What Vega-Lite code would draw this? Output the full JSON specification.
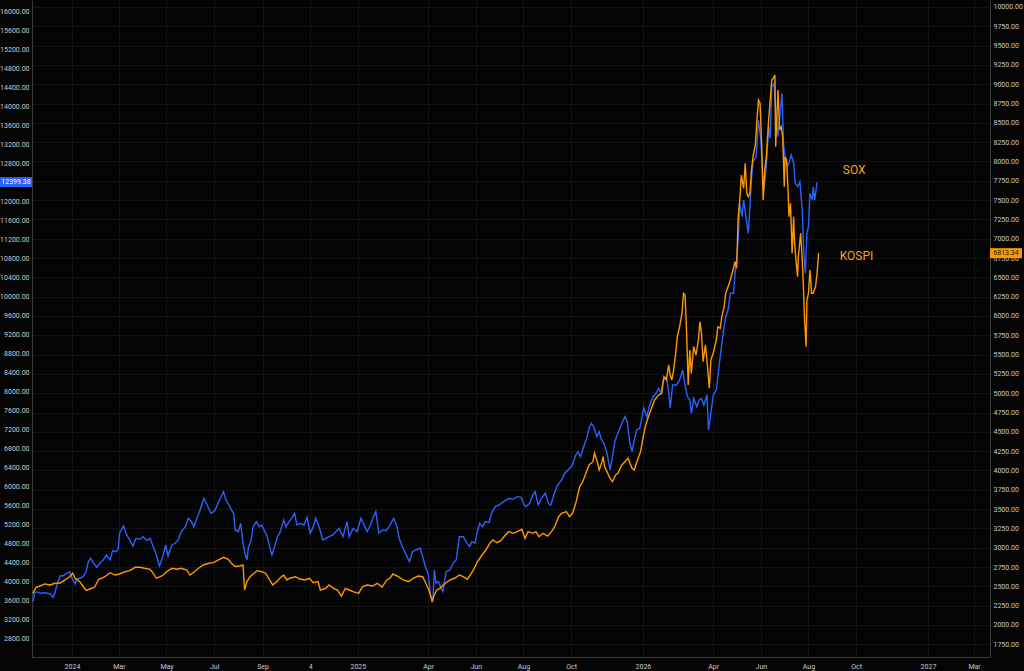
{
  "$schema": "https://vega.github.io/schema/vega-lite/v6.json",
  "width": 958,
  "height": 657,
  "autosize": {"type": "none"},
  "padding": {"left": 32, "right": 34, "top": 0, "bottom": 14},
  "background": "#040404",
  "config": {
    "view": {"stroke": null},
    "axis": {"labelFont": "Roboto", "labelFontSize": 7, "labelColor": "#c8cad0", "domainColor": "#3a3a3a", "ticks": false, "title": null}
  },
  "datasets": {
    "sox": [
      {"date":"2023-11-12","value":3566},{"date":"2023-11-14","value":3743},{"date":"2023-11-17","value":3776},{"date":"2023-11-21","value":3743},{"date":"2023-11-27","value":3755},{"date":"2023-12-04","value":3728},{"date":"2023-12-08","value":3658},{"date":"2023-12-10","value":3743},{"date":"2023-12-13","value":3938},{"date":"2023-12-17","value":4107},{"date":"2023-12-21","value":4117},{"date":"2023-12-25","value":4159},{"date":"2023-12-29","value":4197},
      {"date":"2024-01-01","value":4058},{"date":"2024-01-05","value":3938},{"date":"2024-01-07","value":4044},{"date":"2024-01-11","value":4058},{"date":"2024-01-15","value":4086},{"date":"2024-01-19","value":4197},{"date":"2024-01-22","value":4408},{"date":"2024-01-25","value":4479},{"date":"2024-01-28","value":4387},{"date":"2024-02-02","value":4290},{"date":"2024-02-06","value":4387},{"date":"2024-02-10","value":4444},{"date":"2024-02-14","value":4549},{"date":"2024-02-19","value":4444},{"date":"2024-02-22","value":4639},{"date":"2024-02-26","value":4618},{"date":"2024-02-29","value":4654},
      {"date":"2024-03-02","value":5006},{"date":"2024-03-07","value":5159},{"date":"2024-03-11","value":4970},{"date":"2024-03-15","value":4865},{"date":"2024-03-19","value":4738},{"date":"2024-03-23","value":4900},{"date":"2024-03-28","value":4879},{"date":"2024-04-01","value":4934},{"date":"2024-04-06","value":4850},{"date":"2024-04-10","value":4900},{"date":"2024-04-14","value":4724},{"date":"2024-04-18","value":4549},{"date":"2024-04-22","value":4317},{"date":"2024-04-26","value":4500},{"date":"2024-04-30","value":4759},
      {"date":"2024-05-03","value":4528},{"date":"2024-05-08","value":4759},{"date":"2024-05-12","value":4795},{"date":"2024-05-16","value":4865},{"date":"2024-05-20","value":5039},{"date":"2024-05-25","value":5145},{"date":"2024-05-29","value":5321},{"date":"2024-06-02","value":5250},{"date":"2024-06-05","value":5145},{"date":"2024-06-09","value":5321},{"date":"2024-06-13","value":5496},{"date":"2024-06-18","value":5742},{"date":"2024-06-22","value":5601},{"date":"2024-06-27","value":5426},
      {"date":"2024-07-02","value":5481},{"date":"2024-07-06","value":5637},{"date":"2024-07-09","value":5742},{"date":"2024-07-13","value":5881},{"date":"2024-07-16","value":5707},{"date":"2024-07-20","value":5601},{"date":"2024-07-23","value":5496},{"date":"2024-07-26","value":5426},{"date":"2024-07-28","value":5075},{"date":"2024-08-01","value":5039},{"date":"2024-08-04","value":5216},{"date":"2024-08-07","value":4795},{"date":"2024-08-10","value":4549},{"date":"2024-08-12","value":4444},{"date":"2024-08-14","value":4724},{"date":"2024-08-17","value":4829},{"date":"2024-08-20","value":5145},{"date":"2024-08-24","value":5250},{"date":"2024-08-28","value":5145},{"date":"2024-08-31","value":5180},
      {"date":"2024-09-04","value":5039},{"date":"2024-09-07","value":4934},{"date":"2024-09-10","value":4724},{"date":"2024-09-13","value":4549},{"date":"2024-09-17","value":4759},{"date":"2024-09-20","value":4934},{"date":"2024-09-23","value":5006},{"date":"2024-09-28","value":5286},{"date":"2024-10-01","value":5145},{"date":"2024-10-05","value":5250},{"date":"2024-10-08","value":5321},{"date":"2024-10-12","value":5426},{"date":"2024-10-15","value":5180},{"date":"2024-10-19","value":5216},{"date":"2024-10-24","value":5180},{"date":"2024-10-28","value":5342},
      {"date":"2024-11-01","value":5006},{"date":"2024-11-05","value":5145},{"date":"2024-11-08","value":5321},{"date":"2024-11-13","value":5111},{"date":"2024-11-17","value":4865},{"date":"2024-11-21","value":4900},{"date":"2024-11-25","value":4934},{"date":"2024-11-30","value":4970},{"date":"2024-12-04","value":5039},{"date":"2024-12-08","value":5111},{"date":"2024-12-13","value":4934},{"date":"2024-12-18","value":5250},{"date":"2024-12-21","value":4934},{"date":"2024-12-26","value":5111},{"date":"2024-12-31","value":5039},
      {"date":"2025-01-05","value":5321},{"date":"2025-01-09","value":5180},{"date":"2025-01-13","value":5039},{"date":"2025-01-17","value":5180},{"date":"2025-01-21","value":5355},{"date":"2025-01-24","value":5460},{"date":"2025-01-28","value":5006},{"date":"2025-02-02","value":5075},{"date":"2025-02-06","value":5060},{"date":"2025-02-10","value":5145},{"date":"2025-02-16","value":5321},{"date":"2025-02-20","value":5145},{"date":"2025-02-23","value":4900},{"date":"2025-02-27","value":4724},
      {"date":"2025-03-04","value":4549},{"date":"2025-03-08","value":4408},{"date":"2025-03-12","value":4618},{"date":"2025-03-16","value":4654},{"date":"2025-03-22","value":4690},{"date":"2025-03-25","value":4513},{"date":"2025-03-29","value":4269},{"date":"2025-04-01","value":4164},{"date":"2025-04-04","value":3707},{"date":"2025-04-07","value":3559},{"date":"2025-04-09","value":4233},{"date":"2025-04-11","value":3953},{"date":"2025-04-14","value":3987},{"date":"2025-04-20","value":3776},{"date":"2025-04-24","value":4197},{"date":"2025-04-29","value":4233},
      {"date":"2025-05-03","value":4374},{"date":"2025-05-07","value":4444},{"date":"2025-05-11","value":4934},{"date":"2025-05-16","value":4934},{"date":"2025-05-21","value":4795},{"date":"2025-05-24","value":4724},{"date":"2025-05-27","value":4829},{"date":"2025-05-31","value":4795},{"date":"2025-06-03","value":5039},{"date":"2025-06-06","value":5216},{"date":"2025-06-10","value":5145},{"date":"2025-06-13","value":5250},{"date":"2025-06-18","value":5229},{"date":"2025-06-21","value":5426},{"date":"2025-06-26","value":5566},
      {"date":"2025-07-01","value":5601},{"date":"2025-07-05","value":5650},{"date":"2025-07-10","value":5707},{"date":"2025-07-15","value":5742},{"date":"2025-07-19","value":5721},{"date":"2025-07-24","value":5776},{"date":"2025-07-29","value":5763},{"date":"2025-08-01","value":5637},{"date":"2025-08-04","value":5566},{"date":"2025-08-09","value":5637},{"date":"2025-08-13","value":5812},{"date":"2025-08-16","value":5881},{"date":"2025-08-20","value":5601},{"date":"2025-08-24","value":5742},{"date":"2025-08-29","value":5848},
      {"date":"2025-09-02","value":5637},{"date":"2025-09-05","value":5601},{"date":"2025-09-09","value":5812},{"date":"2025-09-13","value":6001},{"date":"2025-09-19","value":6128},{"date":"2025-09-23","value":6269},{"date":"2025-09-27","value":6338},{"date":"2025-10-02","value":6422},{"date":"2025-10-05","value":6549},{"date":"2025-10-07","value":6654},{"date":"2025-10-10","value":6723},{"date":"2025-10-13","value":6618},{"date":"2025-10-18","value":6864},{"date":"2025-10-21","value":7005},{"date":"2025-10-24","value":7216},{"date":"2025-10-27","value":7321},{"date":"2025-10-30","value":7250},
      {"date":"2025-11-03","value":7039},{"date":"2025-11-06","value":7144},{"date":"2025-11-09","value":6970},{"date":"2025-11-12","value":6900},{"date":"2025-11-16","value":6690},{"date":"2025-11-20","value":6338},{"date":"2025-11-23","value":6618},{"date":"2025-11-26","value":6934},{"date":"2025-11-30","value":7111},{"date":"2025-12-05","value":7321},{"date":"2025-12-09","value":7460},{"date":"2025-12-12","value":7355},{"date":"2025-12-15","value":6934},{"date":"2025-12-18","value":6723},{"date":"2025-12-21","value":6970},{"date":"2025-12-24","value":7180},{"date":"2025-12-28","value":7216},
      {"date":"2026-01-02","value":7643},{"date":"2026-01-06","value":7460},{"date":"2026-01-09","value":7671},{"date":"2026-01-14","value":7881},{"date":"2026-01-18","value":7953},{"date":"2026-01-21","value":8058},{"date":"2026-01-24","value":7953},{"date":"2026-01-27","value":8233},{"date":"2026-01-31","value":8302},{"date":"2026-02-03","value":7986},{"date":"2026-02-05","value":7637},{"date":"2026-02-08","value":8127},{"date":"2026-02-13","value":8127},{"date":"2026-02-17","value":8233},{"date":"2026-02-21","value":8443},{"date":"2026-02-24","value":8127},{"date":"2026-02-27","value":7881},
      {"date":"2026-03-02","value":7812},{"date":"2026-03-04","value":7532},{"date":"2026-03-07","value":7847},{"date":"2026-03-11","value":7671},{"date":"2026-03-14","value":7812},{"date":"2026-03-17","value":7847},{"date":"2026-03-20","value":7706},{"date":"2026-03-24","value":7917},{"date":"2026-03-26","value":7180},{"date":"2026-03-29","value":7532},
      {"date":"2026-04-01","value":7917},{"date":"2026-04-05","value":8022},{"date":"2026-04-08","value":8443},{"date":"2026-04-11","value":8864},{"date":"2026-04-14","value":9249},{"date":"2026-04-17","value":9565},{"date":"2026-04-20","value":9706},{"date":"2026-04-23","value":10058},{"date":"2026-04-27","value":10058},{"date":"2026-04-29","value":10479},
      {"date":"2026-05-01","value":10759},{"date":"2026-05-03","value":11180},{"date":"2026-05-05","value":11952},{"date":"2026-05-08","value":11670},{"date":"2026-05-10","value":12022},{"date":"2026-05-14","value":11531},{"date":"2026-05-16","value":11321},{"date":"2026-05-18","value":11881},{"date":"2026-05-20","value":12443},{"date":"2026-05-22","value":12828},{"date":"2026-05-26","value":12933},{"date":"2026-05-29","value":13706},
      {"date":"2026-06-01","value":13285},{"date":"2026-06-03","value":12653},{"date":"2026-06-05","value":12232},{"date":"2026-06-08","value":12723},{"date":"2026-06-11","value":13565},{"date":"2026-06-13","value":13320},{"date":"2026-06-15","value":14407},{"date":"2026-06-18","value":14478},{"date":"2026-06-20","value":13916},{"date":"2026-06-23","value":13354},{"date":"2026-06-25","value":13706},{"date":"2026-06-28","value":14268},{"date":"2026-06-30","value":13215},
      {"date":"2026-07-02","value":12933},{"date":"2026-07-05","value":12723},{"date":"2026-07-07","value":12794},{"date":"2026-07-10","value":12969},{"date":"2026-07-13","value":12794},{"date":"2026-07-15","value":12373},{"date":"2026-07-18","value":12302},{"date":"2026-07-21","value":12407},{"date":"2026-07-24","value":11811},{"date":"2026-07-26","value":10900},{"date":"2026-07-28","value":10479},{"date":"2026-07-30","value":11321},
      {"date":"2026-08-01","value":11460},{"date":"2026-08-03","value":12163},{"date":"2026-08-06","value":12022},{"date":"2026-08-07","value":12302},{"date":"2026-08-09","value":12022},{"date":"2026-08-12","value":12399.38}
    ],
    "kospi": [
      {"date":"2023-11-12","value":2410},{"date":"2023-11-16","value":2488},{"date":"2023-11-21","value":2505},{"date":"2023-11-27","value":2531},{"date":"2023-12-04","value":2518},{"date":"2023-12-10","value":2540},{"date":"2023-12-17","value":2544},{"date":"2023-12-23","value":2583},{"date":"2023-12-29","value":2625},
      {"date":"2024-01-02","value":2669},{"date":"2024-01-05","value":2605},{"date":"2024-01-11","value":2561},{"date":"2024-01-15","value":2505},{"date":"2024-01-19","value":2447},{"date":"2024-01-24","value":2466},{"date":"2024-01-30","value":2488},{"date":"2024-02-04","value":2592},{"date":"2024-02-08","value":2605},{"date":"2024-02-12","value":2625},{"date":"2024-02-19","value":2677},{"date":"2024-02-25","value":2647},
      {"date":"2024-03-02","value":2660},{"date":"2024-03-09","value":2690},{"date":"2024-03-15","value":2703},{"date":"2024-03-22","value":2747},{"date":"2024-03-28","value":2747},{"date":"2024-04-03","value":2734},{"date":"2024-04-10","value":2721},{"date":"2024-04-14","value":2669},{"date":"2024-04-18","value":2605},{"date":"2024-04-23","value":2625},{"date":"2024-04-27","value":2647},
      {"date":"2024-05-01","value":2690},{"date":"2024-05-08","value":2734},{"date":"2024-05-14","value":2721},{"date":"2024-05-20","value":2734},{"date":"2024-05-27","value":2712},{"date":"2024-05-31","value":2647},{"date":"2024-06-04","value":2677},{"date":"2024-06-11","value":2734},{"date":"2024-06-17","value":2777},{"date":"2024-06-24","value":2799},{"date":"2024-06-30","value":2807},
      {"date":"2024-07-06","value":2841},{"date":"2024-07-13","value":2876},{"date":"2024-07-19","value":2851},{"date":"2024-07-23","value":2799},{"date":"2024-07-28","value":2757},{"date":"2024-08-03","value":2764},{"date":"2024-08-07","value":2777},{"date":"2024-08-09","value":2453},{"date":"2024-08-12","value":2561},{"date":"2024-08-16","value":2625},{"date":"2024-08-20","value":2660},{"date":"2024-08-25","value":2703},{"date":"2024-08-31","value":2690},
      {"date":"2024-09-05","value":2669},{"date":"2024-09-10","value":2583},{"date":"2024-09-14","value":2518},{"date":"2024-09-19","value":2561},{"date":"2024-09-23","value":2605},{"date":"2024-09-28","value":2647},{"date":"2024-10-02","value":2583},{"date":"2024-10-06","value":2605},{"date":"2024-10-13","value":2625},{"date":"2024-10-19","value":2595},{"date":"2024-10-25","value":2583},{"date":"2024-10-31","value":2605},
      {"date":"2024-11-05","value":2548},{"date":"2024-11-11","value":2561},{"date":"2024-11-14","value":2453},{"date":"2024-11-21","value":2475},{"date":"2024-11-25","value":2518},{"date":"2024-12-01","value":2475},{"date":"2024-12-06","value":2453},{"date":"2024-12-11","value":2375},{"date":"2024-12-16","value":2475},{"date":"2024-12-21","value":2453},{"date":"2024-12-26","value":2431},
      {"date":"2025-01-02","value":2410},{"date":"2025-01-07","value":2496},{"date":"2025-01-13","value":2518},{"date":"2025-01-20","value":2505},{"date":"2025-01-26","value":2540},{"date":"2025-02-01","value":2488},{"date":"2025-02-07","value":2583},{"date":"2025-02-11","value":2605},{"date":"2025-02-15","value":2660},{"date":"2025-02-22","value":2625},{"date":"2025-02-28","value":2583},
      {"date":"2025-03-07","value":2561},{"date":"2025-03-13","value":2605},{"date":"2025-03-19","value":2634},{"date":"2025-03-25","value":2625},{"date":"2025-03-29","value":2540},{"date":"2025-04-02","value":2453},{"date":"2025-04-06","value":2311},{"date":"2025-04-09","value":2388},{"date":"2025-04-12","value":2453},{"date":"2025-04-16","value":2475},{"date":"2025-04-23","value":2540},{"date":"2025-04-29","value":2583},
      {"date":"2025-05-05","value":2605},{"date":"2025-05-11","value":2647},{"date":"2025-05-16","value":2625},{"date":"2025-05-21","value":2592},{"date":"2025-05-25","value":2647},{"date":"2025-05-29","value":2712},{"date":"2025-06-03","value":2819},{"date":"2025-06-09","value":2906},{"date":"2025-06-14","value":2971},{"date":"2025-06-19","value":3058},{"date":"2025-06-23","value":3100},{"date":"2025-06-28","value":3065},
      {"date":"2025-07-03","value":3091},{"date":"2025-07-07","value":3143},{"date":"2025-07-13","value":3208},{"date":"2025-07-19","value":3187},{"date":"2025-07-24","value":3208},{"date":"2025-07-30","value":3239},{"date":"2025-08-03","value":3122},{"date":"2025-08-07","value":3208},{"date":"2025-08-13","value":3187},{"date":"2025-08-17","value":3208},{"date":"2025-08-21","value":3143},{"date":"2025-08-26","value":3187},
      {"date":"2025-09-01","value":3152},{"date":"2025-09-06","value":3208},{"date":"2025-09-10","value":3273},{"date":"2025-09-15","value":3402},{"date":"2025-09-19","value":3446},{"date":"2025-09-25","value":3467},{"date":"2025-09-29","value":3402},{"date":"2025-10-03","value":3446},{"date":"2025-10-07","value":3575},{"date":"2025-10-12","value":3790},{"date":"2025-10-16","value":3855},{"date":"2025-10-20","value":3964},{"date":"2025-10-24","value":4071},{"date":"2025-10-29","value":4114},{"date":"2025-10-31","value":4223},
      {"date":"2025-11-03","value":4136},{"date":"2025-11-06","value":4006},{"date":"2025-11-09","value":4093},{"date":"2025-11-11","value":4179},{"date":"2025-11-13","value":4049},{"date":"2025-11-16","value":3985},{"date":"2025-11-20","value":3899},{"date":"2025-11-23","value":3855},{"date":"2025-11-27","value":3942},{"date":"2025-11-30","value":3964},
      {"date":"2025-12-05","value":4071},{"date":"2025-12-09","value":4114},{"date":"2025-12-13","value":4158},{"date":"2025-12-18","value":4028},{"date":"2025-12-21","value":4006},{"date":"2025-12-25","value":4136},{"date":"2025-12-29","value":4243},
      {"date":"2026-01-01","value":4417},{"date":"2026-01-04","value":4567},{"date":"2026-01-08","value":4697},{"date":"2026-01-12","value":4805},{"date":"2026-01-16","value":4913},{"date":"2026-01-21","value":4977},{"date":"2026-01-25","value":4999},{"date":"2026-01-28","value":5214},{"date":"2026-01-31","value":5172},
      {"date":"2026-02-03","value":5366},{"date":"2026-02-05","value":5236},{"date":"2026-02-07","value":5172},{"date":"2026-02-09","value":5279},{"date":"2026-02-12","value":5517},{"date":"2026-02-14","value":5732},{"date":"2026-02-17","value":5862},{"date":"2026-02-20","value":6035},{"date":"2026-02-22","value":6294},{"date":"2026-02-24","value":6272},{"date":"2026-02-26","value":5776},{"date":"2026-02-28","value":5107},
      {"date":"2026-03-02","value":5560},{"date":"2026-03-04","value":5258},{"date":"2026-03-07","value":5603},{"date":"2026-03-10","value":5495},{"date":"2026-03-13","value":5689},{"date":"2026-03-15","value":5926},{"date":"2026-03-17","value":5776},{"date":"2026-03-19","value":5408},{"date":"2026-03-22","value":5625},{"date":"2026-03-24","value":5430},{"date":"2026-03-27","value":5064},{"date":"2026-03-29","value":5430},
      {"date":"2026-04-01","value":5517},{"date":"2026-04-05","value":5689},{"date":"2026-04-07","value":5862},{"date":"2026-04-10","value":5841},{"date":"2026-04-12","value":5991},{"date":"2026-04-15","value":6120},{"date":"2026-04-17","value":6294},{"date":"2026-04-20","value":6379},{"date":"2026-04-23","value":6466},{"date":"2026-04-27","value":6618},{"date":"2026-04-29","value":6703},
      {"date":"2026-05-01","value":6618},{"date":"2026-05-03","value":7285},{"date":"2026-05-05","value":7502},{"date":"2026-05-07","value":7825},{"date":"2026-05-10","value":7653},{"date":"2026-05-12","value":7977},{"date":"2026-05-14","value":7588},{"date":"2026-05-16","value":7544},{"date":"2026-05-18","value":7588},{"date":"2026-05-20","value":7890},{"date":"2026-05-22","value":8062},{"date":"2026-05-25","value":8214},{"date":"2026-05-27","value":8537},{"date":"2026-05-29","value":8796},{"date":"2026-05-31","value":8753},
      {"date":"2026-06-02","value":8236},{"date":"2026-06-04","value":7502},{"date":"2026-06-06","value":7890},{"date":"2026-06-08","value":8062},{"date":"2026-06-11","value":8537},{"date":"2026-06-13","value":8796},{"date":"2026-06-15","value":9055},{"date":"2026-06-17","value":9077},{"date":"2026-06-19","value":9120},{"date":"2026-06-20","value":8192},{"date":"2026-06-23","value":8926},{"date":"2026-06-25","value":8408},{"date":"2026-06-27","value":8451},{"date":"2026-06-29","value":8321},
      {"date":"2026-07-01","value":7674},{"date":"2026-07-02","value":8062},{"date":"2026-07-04","value":8019},{"date":"2026-07-06","value":7588},{"date":"2026-07-07","value":7285},{"date":"2026-07-09","value":7459},{"date":"2026-07-11","value":6812},{"date":"2026-07-13","value":7285},{"date":"2026-07-14","value":6984},{"date":"2026-07-16","value":6725},{"date":"2026-07-18","value":6509},{"date":"2026-07-19","value":6768},{"date":"2026-07-22","value":7071},{"date":"2026-07-24","value":6725},{"date":"2026-07-25","value":6509},{"date":"2026-07-27","value":5948},{"date":"2026-07-29","value":5603},{"date":"2026-07-30","value":6207},
      {"date":"2026-08-01","value":6294},{"date":"2026-08-03","value":6595},{"date":"2026-08-05","value":6294},{"date":"2026-08-07","value":6294},{"date":"2026-08-10","value":6379},{"date":"2026-08-12","value":6553},{"date":"2026-08-14","value":6813.34}
    ]
  },
  "layer": [
    {
      "data": {"name": "sox"},
      "mark": {"type": "line", "color": "#2962FF", "strokeWidth": 1.4},
      "encoding": {
        "x": {
          "field": "date", "type": "temporal",
          "scale": {"type": "utc", "nice": false, "domain": [{"year": 2023, "month": 11, "date": 10, "hours": 19, "utc": true}, {"year": 2027, "month": 3, "date": 21, "hours": 10, "utc": true}]},
          "axis": {
            "orient": "bottom",
            "values": [
              {"year": 2024, "month": 1, "date": 1, "utc": true}, {"year": 2024, "month": 3, "date": 1, "utc": true}, {"year": 2024, "month": 5, "date": 1, "utc": true}, {"year": 2024, "month": 7, "date": 1, "utc": true}, {"year": 2024, "month": 9, "date": 1, "utc": true}, {"year": 2024, "month": 11, "date": 1, "utc": true},
              {"year": 2025, "month": 1, "date": 1, "utc": true}, {"year": 2025, "month": 4, "date": 1, "utc": true}, {"year": 2025, "month": 6, "date": 1, "utc": true}, {"year": 2025, "month": 8, "date": 1, "utc": true}, {"year": 2025, "month": 10, "date": 1, "utc": true},
              {"year": 2026, "month": 1, "date": 1, "utc": true}, {"year": 2026, "month": 4, "date": 1, "utc": true}, {"year": 2026, "month": 6, "date": 1, "utc": true}, {"year": 2026, "month": 8, "date": 1, "utc": true}, {"year": 2026, "month": 10, "date": 1, "utc": true},
              {"year": 2027, "month": 1, "date": 1, "utc": true}, {"year": 2027, "month": 3, "date": 1, "utc": true}
            ],
            "labelExpr": "utcmonth(datum.value) === 0 ? utcFormat(datum.value, '%Y') : (utcyear(datum.value) === 2024 && utcmonth(datum.value) === 10 ? '4' : utcFormat(datum.value, '%b'))",
            "labelPadding": 5,
            "labelBaseline": "top",
            "grid": true,
            "gridColor": "#131313",
            "domain": true
          }
        },
        "y": {
          "field": "value", "type": "quantitative",
          "scale": {"domain": [2401, 16232], "nice": false, "zero": false},
          "axis": {
            "orient": "left",
            "values": [2800,3200,3600,4000,4400,4800,5200,5600,6000,6400,6800,7200,7600,8000,8400,8800,9200,9600,10000,10400,10800,11200,11600,12000,12400,12800,13200,13600,14000,14400,14800,15200,15600,16000],
            "format": ".2f",
            "grid": false,
            "labelPadding": 3,
            "domain": true
          }
        }
      }
    },
    {
      "data": {"name": "kospi"},
      "mark": {"type": "line", "color": "#FF9800", "strokeWidth": 1.4},
      "encoding": {
        "x": {"field": "date", "type": "temporal"},
        "y": {
          "field": "value", "type": "quantitative",
          "scale": {"domain": [1585.7, 10090.6], "nice": false, "zero": false},
          "axis": {
            "orient": "right",
            "values": [1750,2000,2250,2500,2750,3000,3250,3500,3750,4000,4250,4500,4750,5000,5250,5500,5750,6000,6250,6500,6750,7000,7250,7500,7750,8000,8250,8500,8750,9000,9250,9500,9750,10000],
            "format": ".2f",
            "grid": true,
            "gridColor": "#131313",
            "labelPadding": 3,
            "domain": true
          }
        }
      }
    },
    {
      "data": {"values": [{"label": "SOX", "date": "2026-09-14", "value": 12653}, {"label": "KOSPI", "date": "2026-09-10", "value": 10843}]},
      "mark": {"type": "text", "align": "left", "baseline": "middle", "fontSize": 12, "font": "Roboto", "color": "#F7A21B"},
      "encoding": {
        "x": {"field": "date", "type": "temporal"},
        "y": {"field": "value", "type": "quantitative", "scale": {"domain": [2401, 16232], "nice": false, "zero": false}, "axis": null},
        "text": {"field": "label"}
      }
    },
    {
      "data": {"name": "sox"},
      "transform": [{"window": [{"op": "row_number", "as": "rn"}], "sort": [{"field": "date", "order": "descending"}]}, {"filter": "datum.rn === 1"}],
      "mark": {"type": "point", "shape": "M-1,-0.3125H1V0.3125H-1Z", "size": 1024, "filled": true, "opacity": 1, "color": "#2962FF", "xOffset": -16, "clip": false},
      "encoding": {
        "x": {"datum": {"year": 2023, "month": 11, "date": 10, "hours": 19, "utc": true}, "type": "temporal"},
        "y": {"field": "value", "type": "quantitative", "scale": {"domain": [2401, 16232], "nice": false, "zero": false}, "axis": null}
      }
    },
    {
      "data": {"name": "sox"},
      "transform": [{"window": [{"op": "row_number", "as": "rn"}], "sort": [{"field": "date", "order": "descending"}]}, {"filter": "datum.rn === 1"}],
      "mark": {"type": "text", "color": "#ffffff", "fontSize": 7, "font": "Roboto", "align": "center", "baseline": "middle", "xOffset": -16, "clip": false},
      "encoding": {
        "x": {"datum": {"year": 2023, "month": 11, "date": 10, "hours": 19, "utc": true}, "type": "temporal"},
        "y": {"field": "value", "type": "quantitative", "scale": {"domain": [2401, 16232], "nice": false, "zero": false}, "axis": null},
        "text": {"field": "value", "type": "quantitative", "format": ".2f"}
      }
    },
    {
      "data": {"name": "kospi"},
      "transform": [{"window": [{"op": "row_number", "as": "rn"}], "sort": [{"field": "date", "order": "descending"}]}, {"filter": "datum.rn === 1"}],
      "mark": {"type": "point", "shape": "M-1,-0.3125H1V0.3125H-1Z", "size": 1024, "filled": true, "opacity": 1, "color": "#FF9800", "xOffset": 16, "clip": false},
      "encoding": {
        "x": {"datum": {"year": 2027, "month": 3, "date": 21, "hours": 10, "utc": true}, "type": "temporal"},
        "y": {"field": "value", "type": "quantitative", "scale": {"domain": [1585.7, 10090.6], "nice": false, "zero": false}, "axis": null}
      }
    },
    {
      "data": {"name": "kospi"},
      "transform": [{"window": [{"op": "row_number", "as": "rn"}], "sort": [{"field": "date", "order": "descending"}]}, {"filter": "datum.rn === 1"}],
      "mark": {"type": "text", "color": "#111111", "fontSize": 7, "font": "Roboto", "align": "center", "baseline": "middle", "xOffset": 16, "clip": false},
      "encoding": {
        "x": {"datum": {"year": 2027, "month": 3, "date": 21, "hours": 10, "utc": true}, "type": "temporal"},
        "y": {"field": "value", "type": "quantitative", "scale": {"domain": [1585.7, 10090.6], "nice": false, "zero": false}, "axis": null},
        "text": {"field": "value", "type": "quantitative", "format": ".2f"}
      }
    }
  ],
  "resolve": {"scale": {"y": "independent"}, "axis": {"y": "independent"}}
}
